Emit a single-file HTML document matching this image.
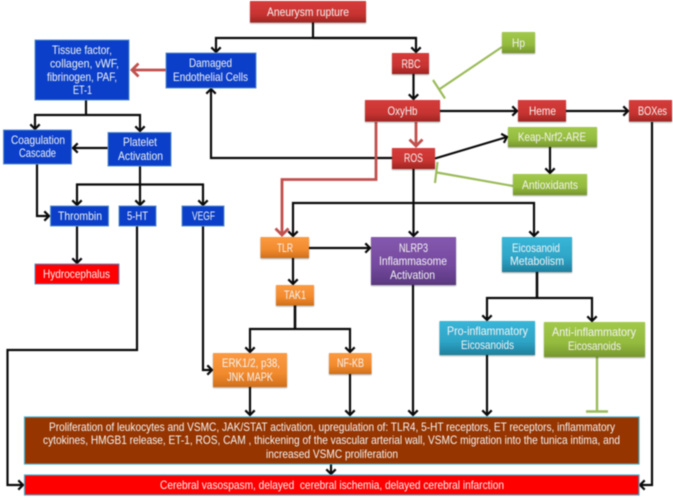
<!DOCTYPE html>
<html><head><meta charset="utf-8"><style>
html,body{margin:0;padding:0;background:#fff}
svg{display:block;filter:blur(.4px)}
text{font-family:"Liberation Sans",sans-serif;font-size:12px;fill:#f4f4f4}
.k{fill:none;stroke:#0a0a0a;stroke-width:2.2}
.a{marker-end:url(#ah)}
.r{fill:none;stroke:#c0504d;stroke-width:2.8}
.ra{marker-end:url(#rh)}
.g{fill:none;stroke:#9bbb59;stroke-width:2.2}
.b{fill:#0b3fc9;stroke:#5b8fc9;stroke-width:1}
.red{fill:url(#gr);filter:url(#sh)}
.grn{fill:url(#gg);filter:url(#sh)}
.org{fill:url(#go);filter:url(#sh)}
.pur{fill:url(#gp);filter:url(#sh)}
.tea{fill:url(#gt);filter:url(#sh)}
</style></head><body>
<svg width="673" height="500" viewBox="0 0 673 500" xmlns="http://www.w3.org/2000/svg">
<defs>
<linearGradient id="gr" x1="0" y1="0" x2="0" y2="1"><stop offset="0" stop-color="#d63c3a"/><stop offset=".6" stop-color="#c83432"/><stop offset="1" stop-color="#9f2523"/></linearGradient>
<linearGradient id="gg" x1="0" y1="0" x2="0" y2="1"><stop offset="0" stop-color="#a2c94a"/><stop offset=".6" stop-color="#94bb3e"/><stop offset="1" stop-color="#76962e"/></linearGradient>
<linearGradient id="go" x1="0" y1="0" x2="0" y2="1"><stop offset="0" stop-color="#fb9a42"/><stop offset=".6" stop-color="#f28a2e"/><stop offset="1" stop-color="#cf6f1c"/></linearGradient>
<linearGradient id="gp" x1="0" y1="0" x2="0" y2="1"><stop offset="0" stop-color="#8458ae"/><stop offset=".6" stop-color="#74499e"/><stop offset="1" stop-color="#5a3880"/></linearGradient>
<linearGradient id="gt" x1="0" y1="0" x2="0" y2="1"><stop offset="0" stop-color="#38b6d8"/><stop offset=".6" stop-color="#2ea4c6"/><stop offset="1" stop-color="#1f7f9e"/></linearGradient>
<filter id="sh" x="-10%" y="-10%" width="120%" height="130%"><feDropShadow dx="0" dy="1" stdDeviation=".7" flood-color="#000" flood-opacity=".35"/></filter>
<marker id="ah" markerUnits="userSpaceOnUse" markerWidth="14" markerHeight="14" refX="8.500" refY="7" orient="auto"><path d="M3.800 2.300L8.500 7L3.800 11.700" fill="none" stroke="#0a0a0a" stroke-width="2.200"/></marker>
<marker id="rh" markerUnits="userSpaceOnUse" markerWidth="16" markerHeight="16" refX="11" refY="8" orient="auto"><path d="M4.500 1.500L11 8L4.500 14.500" fill="none" stroke="#c0504d" stroke-width="2.800"/></marker>
</defs>

<!-- connectors -->
<path class="k" d="M313 22V38"/>
<path class="k a" d="M416 38H216V52"/>
<path class="k a" d="M313 38H416V52"/>
<path class="k a" d="M392 158H211V89"/>
<path class="k" d="M86 100V115"/>
<path class="k a" d="M86 115H35V129"/>
<path class="k a" d="M86 115H140V131"/>
<path class="k a" d="M108 148H73"/>
<path class="k a" d="M37 164V216H49"/>
<path class="k a" d="M140 166V205"/>
<path class="k a" d="M140 184.500H77V205"/>
<path class="k a" d="M140 184.500H203V205"/>
<path class="k a" d="M77 226V263"/>
<path class="k a" d="M137 226V350H7.500V485H23"/>
<path class="k a" d="M203 226V370H212"/>
<path class="k a" d="M413.500 74V99"/>
<path class="k a" d="M440 111H517"/>
<path class="k a" d="M566 111H628"/>
<path class="k a" d="M435 158.500L507 137"/>
<path class="k a" d="M550 147V173"/>
<path class="k a" d="M413.500 169V236"/>
<path class="k a" d="M413.500 203H293V236"/>
<path class="k a" d="M413.500 203H534V236"/>
<path class="k a" d="M309 248H370"/>
<path class="k a" d="M293 258V284"/>
<path class="k" d="M295 305V329" style="stroke-width:2.6"/>
<path class="k a" d="M295 329H250V352"/>
<path class="k a" d="M295 329H350V352"/>
<path class="k a" d="M250 387V415"/>
<path class="k a" d="M350 374V415"/>
<path class="k a" d="M413 285V415"/>
<path class="k" d="M537 272V298" style="stroke-width:2.6"/>
<path class="k a" d="M537 298H487V320"/>
<path class="k a" d="M537 298H592V321"/>
<path class="k a" d="M487 355V415"/>
<path class="k a" d="M331 464V474"/>
<path class="k a" d="M652 122V485H640"/>
<path class="r ra" d="M166 70H132"/>
<path class="r ra" d="M416 122V146"/>
<path class="r ra" d="M376 122V179.500H282V235"/>
<path class="g" d="M502 47L439 89.500M433 80L445 98.500"/>
<path class="g" d="M513 186L437 172.500M437.500 162L435 183"/>
<path class="g" d="M597 357V411" style="stroke-width:2.4"/>
<path class="g" d="M586 411.500H608" style="stroke-width:2.4"/>

<!-- blue boxes -->
<rect class="b" x="35" y="40" width="94" height="60"/>
<rect class="b" x="166" y="53" width="90" height="35"/>
<rect class="b" x="3.500" y="130" width="68" height="34"/>
<rect class="b" x="108" y="132.500" width="63" height="33.500"/>
<rect class="b" x="50.500" y="206" width="58" height="20"/>
<rect class="b" x="119" y="206" width="37" height="20"/>
<rect class="b" x="182" y="206" width="42" height="20"/>
<rect x="35" y="264" width="84" height="20" fill="#ff0000" stroke="#5b8fc9"/>

<!-- red -->
<rect class="red" x="250" y="1" width="116" height="21.500"/>
<rect class="red" x="392" y="53" width="37" height="21"/>
<rect class="red" x="365" y="100" width="75" height="21.500"/>
<rect class="red" x="518" y="100" width="48" height="21.500"/>
<rect class="red" x="629" y="100" width="43" height="21.500"/>
<rect class="red" x="392" y="148" width="43" height="21"/>
<!-- green -->
<rect class="grn" x="502" y="32" width="33" height="21"/>
<rect class="grn" x="508" y="127" width="89" height="20"/>
<rect class="grn" x="513" y="174" width="74" height="21"/>
<rect class="grn" x="544" y="322" width="101" height="35"/>
<!-- orange -->
<rect class="org" x="260.500" y="237" width="48.500" height="21"/>
<rect class="org" x="276" y="285" width="38" height="20.500"/>
<rect class="org" x="213" y="353" width="74" height="34"/>
<rect class="org" x="329" y="353" width="42.500" height="21"/>
<!-- purple, teal -->
<rect class="pur" x="371" y="237" width="85" height="48"/>
<rect class="tea" x="502" y="237" width="70" height="35"/>
<rect class="tea" x="439.500" y="321" width="95.500" height="34"/>
<!-- bottom bars -->
<rect x="24.500" y="417" width="614.500" height="47" fill="#963500" stroke="#4bacc6" stroke-width="1.200"/>
<rect x="24.500" y="475" width="614.500" height="20" fill="#ff0000" stroke="#4bacc6" stroke-width="1.200"/>

<!-- labels -->
<text x="267" y="16" textLength="82" lengthAdjust="spacingAndGlyphs">Aneurysm rupture</text>
<text x="52" y="54" textLength="60" lengthAdjust="spacingAndGlyphs">Tissue factor,</text>
<text x="50" y="67.500" textLength="69" lengthAdjust="spacingAndGlyphs">collagen, vWF,</text>
<text x="47" y="81" textLength="70" lengthAdjust="spacingAndGlyphs">fibrinogen, PAF,</text>
<text x="73" y="94" textLength="19" lengthAdjust="spacingAndGlyphs">ET-1</text>
<text x="189" y="67" textLength="43" lengthAdjust="spacingAndGlyphs">Damaged</text>
<text x="173" y="81" textLength="75" lengthAdjust="spacingAndGlyphs">Endothelial Cells</text>
<text x="11" y="144" textLength="54" lengthAdjust="spacingAndGlyphs">Coagulation</text>
<text x="19" y="157" textLength="37" lengthAdjust="spacingAndGlyphs">Cascade</text>
<text x="123" y="146" textLength="34" lengthAdjust="spacingAndGlyphs">Platelet</text>
<text x="118" y="160" textLength="45" lengthAdjust="spacingAndGlyphs">Activation</text>
<text x="58" y="220" textLength="44" lengthAdjust="spacingAndGlyphs">Thrombin</text>
<text x="127" y="220" textLength="21" lengthAdjust="spacingAndGlyphs">5-HT</text>
<text x="192" y="220" textLength="23" lengthAdjust="spacingAndGlyphs">VEGF</text>
<text x="43" y="278" textLength="67" lengthAdjust="spacingAndGlyphs">Hydrocephalus</text>
<text x="401.500" y="68" textLength="19" lengthAdjust="spacingAndGlyphs">RBC</text>
<text x="387.500" y="115" textLength="30" lengthAdjust="spacingAndGlyphs">OxyHb</text>
<text x="529" y="115" textLength="27" lengthAdjust="spacingAndGlyphs">Heme</text>
<text x="638" y="115" textLength="29" lengthAdjust="spacingAndGlyphs">BOXes</text>
<text x="512" y="47" textLength="13" lengthAdjust="spacingAndGlyphs">Hp</text>
<text x="404" y="162" textLength="19" lengthAdjust="spacingAndGlyphs">ROS</text>
<text x="518" y="141" textLength="68" lengthAdjust="spacingAndGlyphs">Keap-Nrf2-ARE</text>
<text x="522" y="189" textLength="56" lengthAdjust="spacingAndGlyphs">Antioxidants</text>
<text x="277" y="252" textLength="16" lengthAdjust="spacingAndGlyphs">TLR</text>
<text x="399" y="252" textLength="29" lengthAdjust="spacingAndGlyphs">NLRP3</text>
<text x="379" y="265" textLength="68" lengthAdjust="spacingAndGlyphs">Inflammasome</text>
<text x="390" y="279" textLength="45" lengthAdjust="spacingAndGlyphs">Activation</text>
<text x="512" y="252" textLength="48" lengthAdjust="spacingAndGlyphs">Eicosanoid</text>
<text x="510" y="265" textLength="54" lengthAdjust="spacingAndGlyphs">Metabolism</text>
<text x="284" y="299" textLength="22" lengthAdjust="spacingAndGlyphs">TAK1</text>
<text x="222" y="367" textLength="58" lengthAdjust="spacingAndGlyphs">ERK1/2, p38,</text>
<text x="227" y="381" textLength="46" lengthAdjust="spacingAndGlyphs">JNK MAPK</text>
<text x="337" y="367" textLength="27" lengthAdjust="spacingAndGlyphs">NF-KB</text>
<text x="447" y="335" textLength="81" lengthAdjust="spacingAndGlyphs">Pro-inflammatory</text>
<text x="461" y="349" textLength="53" lengthAdjust="spacingAndGlyphs">Eicosanoids</text>
<text x="552" y="336" textLength="84" lengthAdjust="spacingAndGlyphs">Anti-inflammatory</text>
<text x="568" y="350" textLength="53" lengthAdjust="spacingAndGlyphs">Eicosanoids</text>
<text x="49" y="431" textLength="566" lengthAdjust="spacingAndGlyphs">Proliferation of leukocytes and VSMC, JAK/STAT activation, upregulation of: TLR4, 5-HT receptors, ET receptors, inflammatory</text>
<text x="43" y="444" textLength="577" lengthAdjust="spacingAndGlyphs">cytokines, HMGB1 release, ET-1, ROS, CAM , thickening of the vascular arterial wall, VSMC migration into the tunica intima, and</text>
<text x="266" y="458" textLength="132" lengthAdjust="spacingAndGlyphs">increased VSMC proliferation</text>
<text x="160" y="489" textLength="344" lengthAdjust="spacingAndGlyphs" xml:space="preserve">Cerebral vasospasm, delayed  cerebral ischemia, delayed cerebral infarction</text>
</svg>
</body></html>
